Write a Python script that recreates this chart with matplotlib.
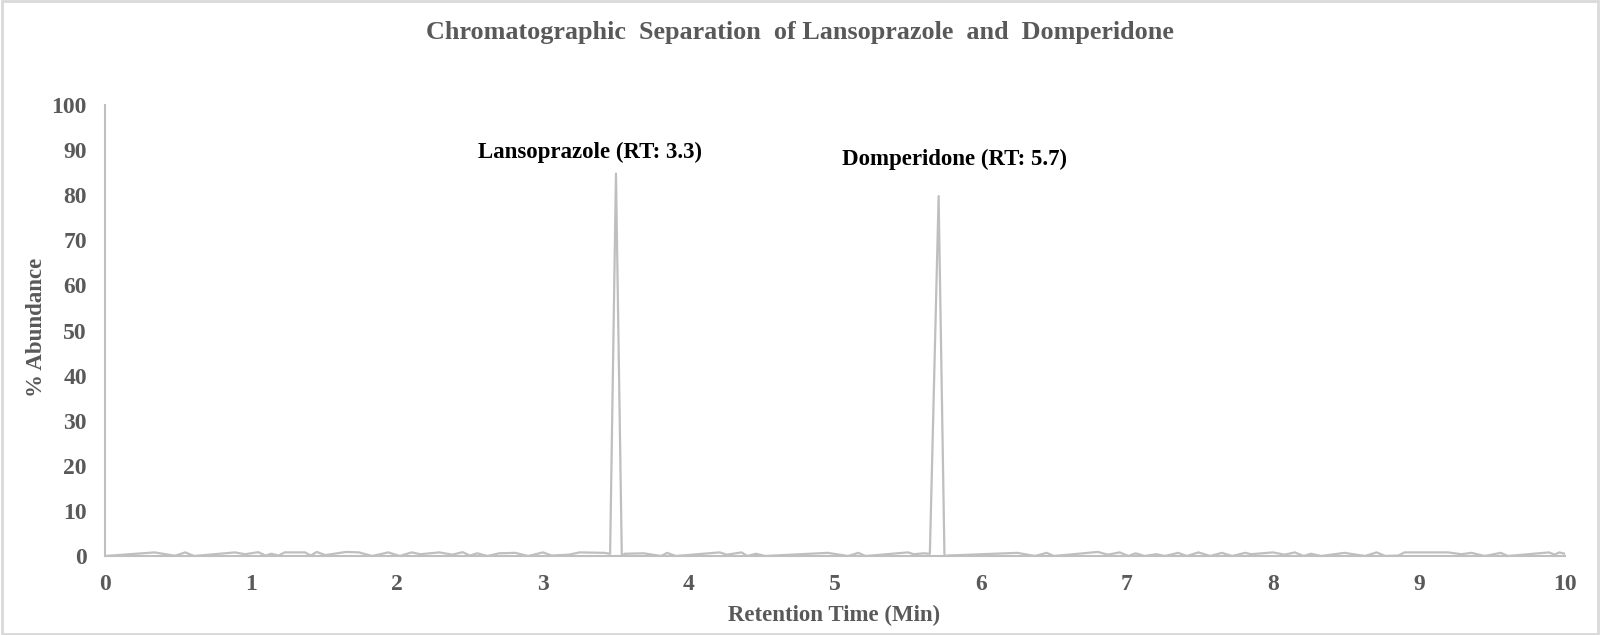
import matplotlib.pyplot as plt
from matplotlib.patches import Rectangle

# retention time (min) and % abundance
rt = [0.00, 0.34, 0.48, 0.55, 0.61, 0.89, 0.96, 1.05, 1.10, 1.14, 1.19, 1.23, 1.37, 1.41,
      1.45, 1.51, 1.65, 1.74, 1.83, 1.94, 2.02, 2.10, 2.16, 2.29, 2.38, 2.45, 2.50, 2.55,
      2.62, 2.70, 2.81, 2.90, 3.00, 3.06, 3.18, 3.25, 3.42, 3.46, 3.50, 3.54, 3.56, 3.69,
      3.81, 3.85, 3.91, 4.21, 4.26, 4.36, 4.40, 4.46, 4.52, 4.95, 5.09, 5.16, 5.21, 5.50,
      5.54, 5.61, 5.65, 5.71, 5.75, 5.77, 6.25, 6.37, 6.45, 6.50, 6.80, 6.87, 6.95, 7.01,
      7.06, 7.12, 7.20, 7.26, 7.35, 7.41, 7.49, 7.57, 7.65, 7.72, 7.81, 7.85, 8.00, 8.08,
      8.15, 8.21, 8.26, 8.33, 8.49, 8.63, 8.71, 8.77, 8.86, 8.90, 9.20, 9.29, 9.36, 9.45,
      9.56, 9.61, 9.89, 9.93, 9.96, 10.00]
abundance = [0.0, 0.8, 0.05, 0.8, 0.0, 0.8, 0.4, 0.85, 0.1, 0.5, 0.1, 0.8, 0.8, 0.1,
             0.9, 0.2, 0.9, 0.8, 0.0, 0.8, 0.0, 0.8, 0.4, 0.8, 0.3, 0.85, 0.1, 0.6,
             0.0, 0.6, 0.7, 0.0, 0.8, 0.1, 0.3, 0.8, 0.7, 0.5, 84.8, 0.0, 0.5, 0.6,
             0.0, 0.7, 0.0, 0.8, 0.3, 0.8, 0.0, 0.5, 0.0, 0.7, 0.0, 0.7, 0.0, 0.8,
             0.4, 0.6, 0.5, 79.8, 0.0, 0.1, 0.7, 0.0, 0.7, 0.0, 0.9, 0.3, 0.8, 0.0,
             0.6, 0.0, 0.4, 0.0, 0.7, 0.0, 0.8, 0.0, 0.7, 0.0, 0.7, 0.4, 0.8, 0.3,
             0.8, 0.0, 0.5, 0.0, 0.7, 0.0, 0.8, 0.0, 0.1, 0.8, 0.8, 0.4, 0.7, 0.0,
             0.7, 0.0, 0.8, 0.3, 0.8, 0.5]

peak_labels = ['Lansoprazole (RT: 3.3)', 'Domperidone (RT: 5.7)']
label_x = [3.32, 5.82]
label_y = [89.6, 88.0]

grey = '#595959'
plt.rcParams['font.family'] = ['Liberation Serif', 'DejaVu Serif']

fig = plt.figure(figsize=(16, 6.35), dpi=100)
fig.patch.set_facecolor('white')
ax = fig.add_axes([0.0656, 0.1244, 0.9125, 0.7102])

ax.plot(rt, abundance, color='#bfbfbf', lw=1.6)

for txt, x, y in zip(peak_labels, label_x, label_y):
    ax.text(x, y, txt, ha='center', va='center', fontsize=16.5, fontweight='bold', color='black')

ax.set_xlim(0, 10)
ax.set_ylim(0, 100)
ax.set_xticks(range(0, 11))
ax.set_yticks(range(0, 101, 10))
ax.tick_params(length=0, pad=13, labelsize=17, labelcolor=grey)
for lab in ax.get_xticklabels() + ax.get_yticklabels():
    lab.set_fontweight('bold')

for side in ['top', 'right']:
    ax.spines[side].set_visible(False)
for side in ['left', 'bottom']:
    ax.spines[side].set_color('#bfbfbf')
    ax.spines[side].set_linewidth(1.5)

fig.text(0.5, 1 - 33/635, 'Chromatographic  Separation  of Lansoprazole  and  Domperidone',
         ha='center', va='center', fontsize=18.8, fontweight='bold', color=grey)
fig.text(0.5213, 1 - 615/635, 'Retention Time (Min)', ha='center', va='center',
         fontsize=16.5, fontweight='bold', color=grey)
fig.text(37/1600, 1 - 327/635, '% Abundance', ha='center', va='center', rotation=90,
         fontsize=16.5, fontweight='bold', color=grey)

# light chart border
fig.patches.append(Rectangle((0.001, 0.002), 0.998, 0.996, transform=fig.transFigure,
                             fill=False, edgecolor='#d9d9d9', lw=2))

fig.savefig('out.png', dpi=100, facecolor='white')
